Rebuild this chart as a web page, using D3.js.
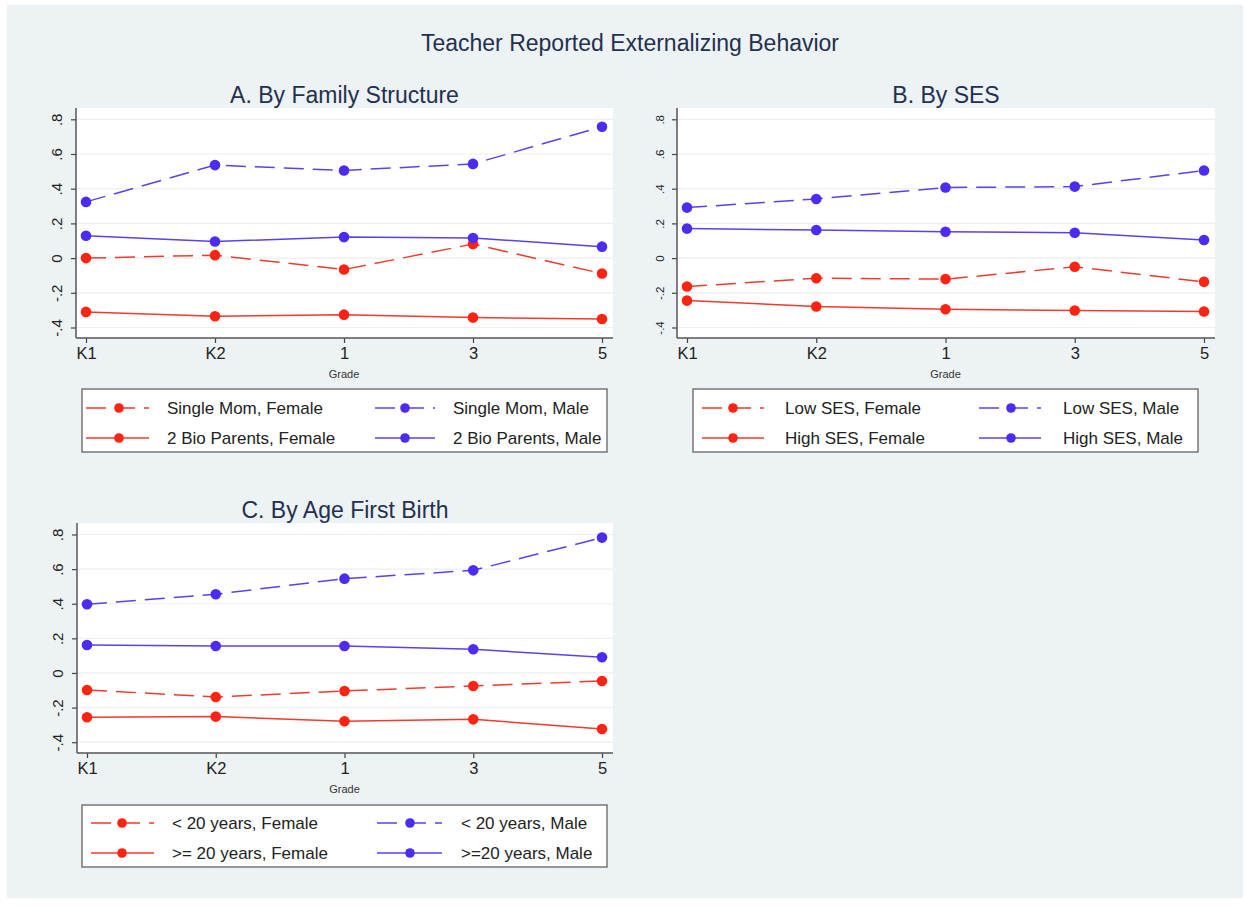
<!DOCTYPE html>
<html><head><meta charset="utf-8">
<script src="https://cdn.jsdelivr.net/npm/d3@7"></script>
<style>
html,body{margin:0;padding:0;background:#fff;}
svg text{font-family:"Liberation Sans",Arial,Helvetica,sans-serif;}
</style></head>
<body>
<svg id="chart" width="1250" height="907"></svg>
<script>
// ---- data ----
const grades = ["K1","K2","1","3","5"];
const yTicks = [-0.4,-0.2,0,0.2,0.4,0.6,0.8];
const yTickLabels = ["-.4","-.2","0",".2",".4",".6",".8"];

const famSingleMomFemale = [0.000, 0.017, -0.066, 0.081, -0.089];
const famSingleMomMale   = [0.324, 0.536, 0.505, 0.543, 0.757];
const famBioFemale       = [-0.310, -0.335, -0.326, -0.343, -0.351];
const famBioMale         = [0.129, 0.096, 0.121, 0.116, 0.066];

const sesLowFemale  = [-0.164, -0.116, -0.121, -0.050, -0.137];
const sesLowMale    = [0.291, 0.341, 0.407, 0.412, 0.505];
const sesHighFemale = [-0.245, -0.279, -0.295, -0.302, -0.308];
const sesHighMale   = [0.170, 0.162, 0.152, 0.146, 0.104];

const ageU20Female = [-0.098, -0.139, -0.104, -0.075, -0.046];
const ageU20Male   = [0.397, 0.455, 0.545, 0.593, 0.782];
const ageO20Female = [-0.256, -0.252, -0.279, -0.268, -0.324];
const ageO20Male   = [0.162, 0.156, 0.156, 0.137, 0.091];

const mainTitle = "Teacher Reported Externalizing Behavior";
const panelTitles = ["A. By Family Structure","B. By SES","C. By Age First Birth"];
const legendA = ["Single Mom, Female","Single Mom, Male","2 Bio Parents, Female","2 Bio Parents, Male"];
const legendB = ["Low SES, Female","Low SES, Male","High SES, Female","High SES, Male"];
const legendC = ["< 20 years, Female","< 20 years, Male",">= 20 years, Female",">=20 years, Male"];
const xTitle = "Grade";

// ---- styles ----
const RED_LINE = "#f03a2e", RED_DOT = "#ff2412";
const BLUE_LINE = "#5a40f0", BLUE_DOT = "#4a2cf2";
const DASH = "20,9";

const svg = d3.select("#chart");
svg.append("rect").attr("x",7).attr("y",5).attr("width",1236).attr("height",893).attr("fill","#edf2f4");

svg.append("text").attr("x",630).attr("y",51).attr("text-anchor","middle")
  .attr("font-size",23).attr("fill","#23304f").text(mainTitle);

const panels = [
  {title:panelTitles[0], axisX:76, right:613, top:108, axisY:338, xr:[86,602], yr:[327.5,119.3], tickFont:15,
   series:[famSingleMomFemale,famSingleMomMale,famBioFemale,famBioMale], legend:legendA,
   lg:{x0:82,x1:607,y0:389,y1:452,rows:[408,438],c1:[86,149,119,167],c2:[375,435,405,453]}},
  {title:panelTitles[1], axisX:677, right:1215, top:108, axisY:338, xr:[687,1204], yr:[327.5,119.3], tickFont:11.5,
   series:[sesLowFemale,sesLowMale,sesHighFemale,sesHighMale], legend:legendB,
   lg:{x0:693,x1:1198,y0:389,y1:452,rows:[408,438],c1:[702,764,733,785],c2:[979,1041,1011,1063]}},
  {title:panelTitles[2], axisX:77, right:613, top:523, axisY:753, xr:[87,602], yr:[742.2,534.5], tickFont:15,
   series:[ageU20Female,ageU20Male,ageO20Female,ageO20Male], legend:legendC,
   lg:{x0:82,x1:607,y0:805,y1:867,rows:[823,853],c1:[91,154,122,172],c2:[377,442,410,461]}}
];
const styles = [
  {line:RED_LINE, dot:RED_DOT, dash:DASH},
  {line:BLUE_LINE, dot:BLUE_DOT, dash:DASH},
  {line:RED_LINE, dot:RED_DOT, dash:null},
  {line:BLUE_LINE, dot:BLUE_DOT, dash:null}
];

panels.forEach(p => {
  const g = svg.append("g");
  const x = d3.scalePoint().domain(grades).range(p.xr);
  const y = d3.scaleLinear().domain([-0.4,0.8]).range(p.yr);

  // plot area
  g.append("rect").attr("x",p.axisX).attr("y",p.top).attr("width",p.right-p.axisX).attr("height",p.axisY-p.top).attr("fill","#fff");
  // gridlines
  g.selectAll(".grid").data(yTicks).enter().append("line")
    .attr("x1",p.axisX).attr("x2",p.right).attr("y1",d=>y(d)).attr("y2",d=>y(d))
    .attr("stroke","#e9eff2").attr("stroke-width",1.2);

  // title
  g.append("text").attr("x",(p.axisX+p.right)/2).attr("y",p.top-5).attr("text-anchor","middle")
    .attr("font-size",23).attr("fill","#23304f").text(p.title);

  // y axis
  const yAxis = d3.axisLeft(y).tickValues(yTicks).tickSize(5).tickPadding(0).tickFormat((d,i)=>yTickLabels[i]);
  const ya = g.append("g").attr("transform",`translate(${p.axisX},0)`).call(yAxis);
  ya.select(".domain").remove();
  ya.selectAll(".tick line").attr("stroke","#444").attr("stroke-width",1.2);
  ya.selectAll(".tick text").attr("transform","rotate(-90)").attr("x",0).attr("y",-(p.tickFont>=14?19:17))
    .attr("dy","0.35em").attr("text-anchor","middle").attr("font-size",p.tickFont).attr("fill","#222");
  g.append("line").attr("x1",p.axisX).attr("x2",p.axisX).attr("y1",p.top).attr("y2",p.axisY)
    .attr("stroke","#555").attr("stroke-width",1.5);

  // x axis
  const xAxis = d3.axisBottom(x).tickSize(5).tickPadding(4);
  const xa = g.append("g").attr("transform",`translate(0,${p.axisY})`).call(xAxis);
  xa.select(".domain").remove();
  xa.selectAll(".tick line").attr("stroke","#444").attr("stroke-width",1.2);
  xa.selectAll(".tick text").attr("font-size",16.5).attr("fill","#222");
  g.append("line").attr("x1",p.axisX).attr("x2",p.right).attr("y1",p.axisY).attr("y2",p.axisY)
    .attr("stroke","#555").attr("stroke-width",1.5);
  g.append("text").attr("x",(p.xr[0]+p.xr[1])/2).attr("y",p.axisY+40).attr("text-anchor","middle")
    .attr("font-size",11).attr("fill","#333").text(xTitle);

  // series
  const line = d3.line().x((d,i)=>x(grades[i])).y(d=>y(d));
  p.series.forEach((s,k) => {
    const st = styles[k];
    g.append("path").datum(s).attr("d",line).attr("fill","none")
      .attr("stroke",st.line).attr("stroke-width",1.5)
      .attr("stroke-dasharray",st.dash);
    g.selectAll(null).data(s).enter().append("circle")
      .attr("cx",(d,i)=>x(grades[i])).attr("cy",d=>y(d)).attr("r",5.3).attr("fill",st.dot);
  });

  // legend
  const L = p.lg;
  g.append("rect").attr("x",L.x0).attr("y",L.y0).attr("width",L.x1-L.x0).attr("height",L.y1-L.y0)
    .attr("fill","#fff").attr("stroke","#777").attr("stroke-width",1.5);
  p.legend.forEach((lab,k) => {
    const st = styles[k];
    const row = L.rows[k<2?0:1];
    const c = (k%2===0)?L.c1:L.c2;
    g.append("line").attr("x1",c[0]).attr("x2",c[1]).attr("y1",row).attr("y2",row)
      .attr("stroke",st.line).attr("stroke-width",1.4).attr("stroke-dasharray",st.dash);
    g.append("circle").attr("cx",c[2]).attr("cy",row).attr("r",4.8).attr("fill",st.dot);
    g.append("text").attr("x",c[3]).attr("y",row).attr("dy","0.36em").attr("font-size",17)
      .attr("fill","#222").text(lab);
  });
});
</script>
</body></html>
